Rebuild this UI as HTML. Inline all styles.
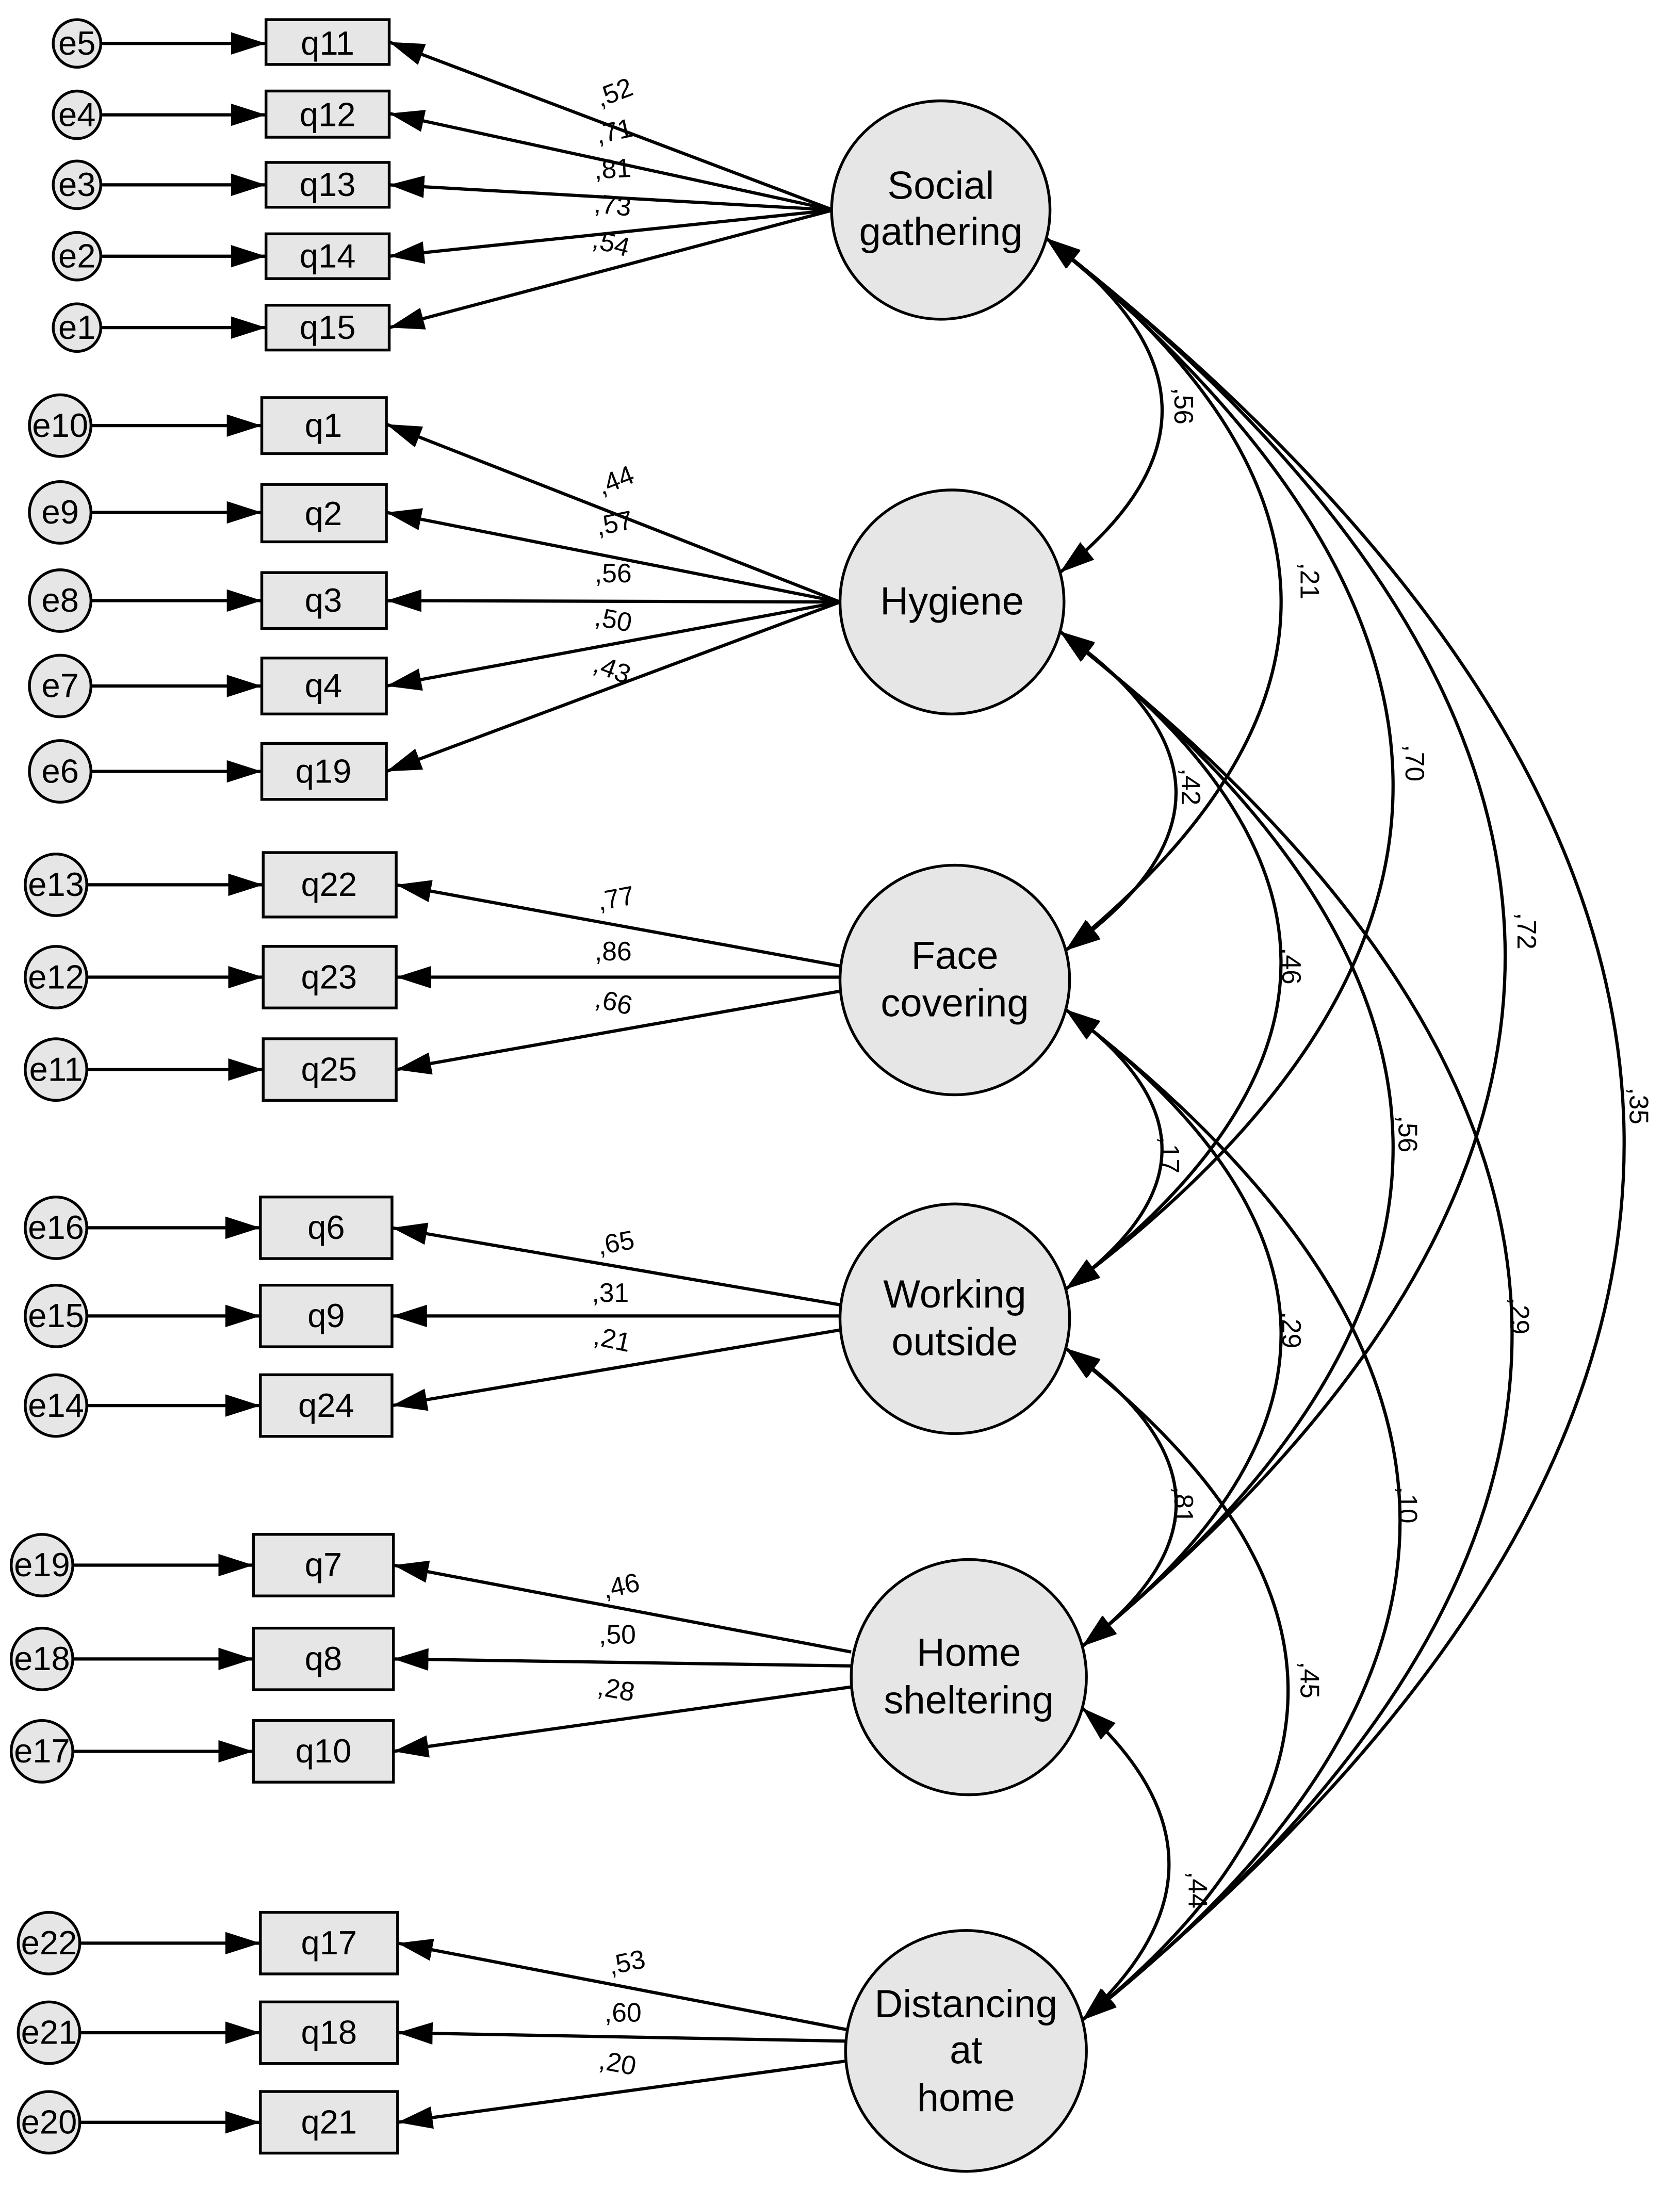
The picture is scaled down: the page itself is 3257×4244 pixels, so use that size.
<!DOCTYPE html>
<html><head><meta charset="utf-8"><style>
html,body{margin:0;padding:0;background:#fff;}
svg{display:block;}
text{font-family:"Liberation Sans",Arial,sans-serif;fill:#000;}
.lat{font-size:28px;text-anchor:middle;}
.box{font-size:24px;text-anchor:middle;}
.err{font-size:24px;text-anchor:middle;}
.co{font-size:19px;text-anchor:middle;}
</style></head><body>
<svg width="3257" height="4244" viewBox="0 0 1200 1563.6" xmlns="http://www.w3.org/2000/svg">
<defs>
<marker id="a" markerUnits="userSpaceOnUse" markerWidth="26" markerHeight="18" refX="25" refY="8" orient="auto-start-reverse">
<path d="M0,0 L25,8 L0,16 z" fill="#000"/>
</marker>
</defs>
<rect width="1200" height="1563.6" fill="#fff"/>
<g stroke="#000" stroke-width="2.3" fill="none">
<path d="M747,170 Q908,289.5 757,409" marker-start="url(#a)" marker-end="url(#a)"/>
<path d="M747,170 Q1076,424.5 761,679" marker-start="url(#a)" marker-end="url(#a)"/>
<path d="M747,170 Q1236,566.5 761,921" marker-start="url(#a)" marker-end="url(#a)"/>
<path d="M747,170 Q1390,673 773,1176" marker-start="url(#a)" marker-end="url(#a)"/>
<path d="M747,170 Q1560,806.5 773,1443" marker-start="url(#a)" marker-end="url(#a)"/>
<path d="M757,451 Q921,565 761,679" marker-start="url(#a)" marker-end="url(#a)"/>
<path d="M757,451 Q1071,686 761,921" marker-start="url(#a)" marker-end="url(#a)"/>
<path d="M757,451 Q1225,813.5 773,1176" marker-start="url(#a)" marker-end="url(#a)"/>
<path d="M757,451 Q1395,947 773,1443" marker-start="url(#a)" marker-end="url(#a)"/>
<path d="M761,721 Q899,821 761,921" marker-start="url(#a)" marker-end="url(#a)"/>
<path d="M761,721 Q1063,948.5 773,1176" marker-start="url(#a)" marker-end="url(#a)"/>
<path d="M761,721 Q1233,1082 773,1443" marker-start="url(#a)" marker-end="url(#a)"/>
<path d="M761,963 Q913,1069.5 773,1176" marker-start="url(#a)" marker-end="url(#a)"/>
<path d="M761,963 Q1073,1203 773,1443" marker-start="url(#a)" marker-end="url(#a)"/>
<path d="M773,1220 Q897,1331.5 773,1443" marker-start="url(#a)" marker-end="url(#a)"/>
<path d="M595,150 L278,30" marker-end="url(#a)"/>
<path d="M595,150 L278,81" marker-end="url(#a)"/>
<path d="M595,150 L278,132" marker-end="url(#a)"/>
<path d="M595,150 L278,183" marker-end="url(#a)"/>
<path d="M595,150 L278,234" marker-end="url(#a)"/>
<path d="M600,430 L276,303" marker-end="url(#a)"/>
<path d="M600,430 L276,366" marker-end="url(#a)"/>
<path d="M600,430 L276,429" marker-end="url(#a)"/>
<path d="M600,430 L276,490" marker-end="url(#a)"/>
<path d="M600,430 L276,551" marker-end="url(#a)"/>
<path d="M600,690 L283,632" marker-end="url(#a)"/>
<path d="M600,698 L283,698" marker-end="url(#a)"/>
<path d="M600,708 L283,764" marker-end="url(#a)"/>
<path d="M600,932 L280,877" marker-end="url(#a)"/>
<path d="M600,940 L280,940" marker-end="url(#a)"/>
<path d="M600,950 L280,1004" marker-end="url(#a)"/>
<path d="M608,1180 L281,1118" marker-end="url(#a)"/>
<path d="M608,1190 L281,1185" marker-end="url(#a)"/>
<path d="M608,1205 L281,1251" marker-end="url(#a)"/>
<path d="M606,1450 L284,1388" marker-end="url(#a)"/>
<path d="M606,1458 L284,1452" marker-end="url(#a)"/>
<path d="M606,1472 L284,1516" marker-end="url(#a)"/>
<path d="M72,31 L190,31" marker-end="url(#a)"/>
<path d="M72,82 L190,82" marker-end="url(#a)"/>
<path d="M72,132 L190,132" marker-end="url(#a)"/>
<path d="M72,183 L190,183" marker-end="url(#a)"/>
<path d="M72,234 L190,234" marker-end="url(#a)"/>
<path d="M65,304 L187,304" marker-end="url(#a)"/>
<path d="M65,366 L187,366" marker-end="url(#a)"/>
<path d="M65,429 L187,429" marker-end="url(#a)"/>
<path d="M65,490 L187,490" marker-end="url(#a)"/>
<path d="M65,551 L187,551" marker-end="url(#a)"/>
<path d="M62,632 L188,632" marker-end="url(#a)"/>
<path d="M62,698 L188,698" marker-end="url(#a)"/>
<path d="M62,764 L188,764" marker-end="url(#a)"/>
<path d="M62,877 L186,877" marker-end="url(#a)"/>
<path d="M62,940 L186,940" marker-end="url(#a)"/>
<path d="M62,1004 L186,1004" marker-end="url(#a)"/>
<path d="M52,1118 L181,1118" marker-end="url(#a)"/>
<path d="M52,1185 L181,1185" marker-end="url(#a)"/>
<path d="M52,1251 L181,1251" marker-end="url(#a)"/>
<path d="M57,1388 L186,1388" marker-end="url(#a)"/>
<path d="M57,1452 L186,1452" marker-end="url(#a)"/>
<path d="M57,1516 L186,1516" marker-end="url(#a)"/>
</g>
<g stroke="#000" stroke-width="2" fill="#e6e6e6">
<circle cx="672" cy="150" r="78"/>
<circle cx="680" cy="430" r="80"/>
<circle cx="682" cy="700" r="82"/>
<circle cx="682" cy="942" r="82"/>
<circle cx="692" cy="1198" r="84"/>
<circle cx="690" cy="1465" r="86"/>
<rect x="190" y="14" width="88" height="32"/>
<rect x="190" y="65" width="88" height="33"/>
<rect x="190" y="116" width="88" height="32"/>
<rect x="190" y="167" width="88" height="32"/>
<rect x="190" y="218" width="88" height="32"/>
<rect x="187" y="284" width="89" height="40"/>
<rect x="187" y="346" width="89" height="41"/>
<rect x="187" y="409" width="89" height="40"/>
<rect x="187" y="470" width="89" height="40"/>
<rect x="187" y="531" width="89" height="40"/>
<rect x="188" y="609" width="95" height="46"/>
<rect x="188" y="676" width="95" height="44"/>
<rect x="188" y="742" width="95" height="44"/>
<rect x="186" y="855" width="94" height="44"/>
<rect x="186" y="918" width="94" height="44"/>
<rect x="186" y="982" width="94" height="44"/>
<rect x="181" y="1096" width="100" height="44"/>
<rect x="181" y="1163" width="100" height="44"/>
<rect x="181" y="1229" width="100" height="44"/>
<rect x="186" y="1366" width="98" height="44"/>
<rect x="186" y="1430" width="98" height="44"/>
<rect x="186" y="1494" width="98" height="44"/>
<circle cx="55" cy="31" r="17"/><circle cx="55" cy="82" r="17"/><circle cx="55" cy="132" r="17"/><circle cx="55" cy="183" r="17"/><circle cx="55" cy="234" r="17"/>
<circle cx="43" cy="304" r="22"/><circle cx="43" cy="366" r="22"/><circle cx="43" cy="429" r="22"/><circle cx="43" cy="490" r="22"/><circle cx="43" cy="551" r="22"/>
<circle cx="40" cy="632" r="22"/><circle cx="40" cy="698" r="22"/><circle cx="40" cy="764" r="22"/>
<circle cx="40" cy="877" r="22"/><circle cx="40" cy="940" r="22"/><circle cx="40" cy="1004" r="22"/>
<circle cx="30" cy="1118" r="22"/><circle cx="30" cy="1185" r="22"/><circle cx="30" cy="1251" r="22"/>
<circle cx="35" cy="1388" r="22"/><circle cx="35" cy="1452" r="22"/><circle cx="35" cy="1516" r="22"/>
</g>
<g>
<text class="lat" x="672" y="142">Social</text><text class="lat" x="672" y="175">gathering</text>
<text class="lat" x="680" y="439">Hygiene</text>
<text class="lat" x="682" y="692">Face</text><text class="lat" x="682" y="726">covering</text>
<text class="lat" x="682" y="934">Working</text><text class="lat" x="682" y="968">outside</text>
<text class="lat" x="692" y="1190">Home</text><text class="lat" x="692" y="1224">sheltering</text>
<text class="lat" x="690" y="1441">Distancing</text><text class="lat" x="690" y="1474">at</text><text class="lat" x="690" y="1508">home</text>
</g>
<g>
<text class="box" x="234" y="39">q11</text><text class="box" x="234" y="90">q12</text><text class="box" x="234" y="140">q13</text><text class="box" x="234" y="191">q14</text><text class="box" x="234" y="242">q15</text>
<text class="box" x="231" y="312">q1</text><text class="box" x="231" y="375">q2</text><text class="box" x="231" y="437">q3</text><text class="box" x="231" y="498">q4</text><text class="box" x="231" y="559">q19</text>
<text class="box" x="235" y="640">q22</text><text class="box" x="235" y="706">q23</text><text class="box" x="235" y="772">q25</text>
<text class="box" x="233" y="885">q6</text><text class="box" x="233" y="948">q9</text><text class="box" x="233" y="1012">q24</text>
<text class="box" x="231" y="1126">q7</text><text class="box" x="231" y="1193">q8</text><text class="box" x="231" y="1259">q10</text>
<text class="box" x="235" y="1396">q17</text><text class="box" x="235" y="1460">q18</text><text class="box" x="235" y="1524">q21</text>
</g>
<g>
<text class="err" x="55" y="39">e5</text><text class="err" x="55" y="90">e4</text><text class="err" x="55" y="140">e3</text><text class="err" x="55" y="191">e2</text><text class="err" x="55" y="242">e1</text>
<text class="err" x="43" y="312">e10</text><text class="err" x="43" y="374">e9</text><text class="err" x="43" y="437">e8</text><text class="err" x="43" y="498">e7</text><text class="err" x="43" y="559">e6</text>
<text class="err" x="40" y="640">e13</text><text class="err" x="40" y="706">e12</text><text class="err" x="40" y="772">e11</text>
<text class="err" x="40" y="885">e16</text><text class="err" x="40" y="948">e15</text><text class="err" x="40" y="1012">e14</text>
<text class="err" x="30" y="1126">e19</text><text class="err" x="30" y="1193">e18</text><text class="err" x="30" y="1259">e17</text>
<text class="err" x="35" y="1396">e22</text><text class="err" x="35" y="1460">e21</text><text class="err" x="35" y="1524">e20</text>
</g>
<g>
<text class="co" transform="translate(441,72) rotate(-20.7)">,52</text>
<text class="co" transform="translate(440,100) rotate(-12.3)">,71</text>
<text class="co" transform="translate(438,127) rotate(-3.2)">,81</text>
<text class="co" transform="translate(437,153) rotate(5.9)">,73</text>
<text class="co" transform="translate(435,180) rotate(14.8)">,54</text>
<text class="co" transform="translate(442,349) rotate(-21.5)">,44</text>
<text class="co" transform="translate(440,380) rotate(-11.2)">,57</text>
<text class="co" transform="translate(438,416) rotate(0)">,56</text>
<text class="co" transform="translate(437,449) rotate(10.5)">,50</text>
<text class="co" transform="translate(435,484) rotate(20.6)">,43</text>
<text class="co" transform="translate(441,648) rotate(-10.4)">,77</text>
<text class="co" transform="translate(438,686) rotate(0)">,86</text>
<text class="co" transform="translate(437,722) rotate(13.2)">,66</text>
<text class="co" transform="translate(441,894) rotate(-10.3)">,65</text>
<text class="co" transform="translate(436,930) rotate(0)">,31</text>
<text class="co" transform="translate(436,963) rotate(12.2)">,21</text>
<text class="co" transform="translate(445,1139) rotate(-12.5)">,46</text>
<text class="co" transform="translate(441,1174) rotate(0)">,50</text>
<text class="co" transform="translate(439,1213) rotate(10.6)">,28</text>
<text class="co" transform="translate(449,1408) rotate(-11.8)">,53</text>
<text class="co" transform="translate(445,1444) rotate(0)">,60</text>
<text class="co" transform="translate(440,1480) rotate(10.7)">,20</text>
</g>
<g>
<text class="co" transform="translate(839,290) rotate(90)">,56</text>
<text class="co" transform="translate(929,415) rotate(90)">,21</text>
<text class="co" transform="translate(1004,545) rotate(90)">,70</text>
<text class="co" transform="translate(1084,665) rotate(90)">,72</text>
<text class="co" transform="translate(1164,790) rotate(90)">,35</text>
<text class="co" transform="translate(844,562) rotate(90)">,42</text>
<text class="co" transform="translate(916,690) rotate(90)">,46</text>
<text class="co" transform="translate(999,810) rotate(90)">,56</text>
<text class="co" transform="translate(1079,940) rotate(90)">,29</text>
<text class="co" transform="translate(829,825) rotate(90)">,17</text>
<text class="co" transform="translate(916,950) rotate(90)">,29</text>
<text class="co" transform="translate(999,1075) rotate(90)">,10</text>
<text class="co" transform="translate(839,1075) rotate(90)">,81</text>
<text class="co" transform="translate(929,1200) rotate(90)">,45</text>
<text class="co" transform="translate(849,1350) rotate(90)">,44</text>
</g>
</svg>
</body></html>
